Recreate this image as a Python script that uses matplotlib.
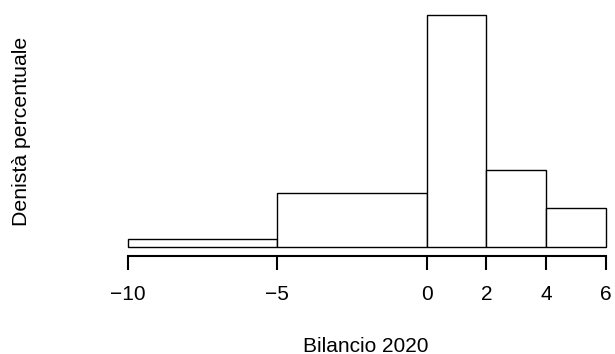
import matplotlib
matplotlib.use("Agg")
import matplotlib.pyplot as plt
import numpy as np

plt.rcParams['font.family'] = ['Liberation Sans', 'DejaVu Sans']

# Class breaks and share of observations (%) in each class
breaks = [-10, -5, 0, 2, 4, 6]
percent = [3.85, 26.92, 46.15, 15.38, 7.69]
tick_labels = ["\u221210", "\u22125", "0", "2", "4", "6"]

widths = np.diff(breaks)
density = np.array(percent) / widths

fig = plt.figure(figsize=(6.15, 3.54), dpi=100)
W, H = 615, 354
x0, x1 = 127.5, 606.0
ybot, ytop = 247.0, 15.0
ax = fig.add_axes([x0 / W, (H - ybot) / H, (x1 - x0) / W, (ybot - ytop) / H])

ax.bar(breaks[:-1], density, width=widths, align='edge',
       facecolor='white', edgecolor='black', linewidth=1.0, clip_on=False)

ax.set_xlim(breaks[0], breaks[-1])
ax.set_ylim(0, density.max())

for s in ['top', 'right', 'left']:
    ax.spines[s].set_visible(False)
ax.spines['bottom'].set_position(('outward', 6.5))
ax.spines['bottom'].set_linewidth(1.5)
ax.set_yticks([])
ax.set_xticks(breaks)
ax.set_xticklabels(tick_labels, fontsize=15)
ax.tick_params(axis='x', direction='out', length=10, width=1.5, pad=11)

fig.text(366 / W, 1 - 351.5 / H, "Bilancio 2020", ha='center', va='baseline', fontsize=15)
fig.text(22 / W, 1 - 131 / H, "Denist\u00e0 percentuale", ha='center', va='center',
         rotation=90, fontsize=15.3)

fig.savefig("out.png", dpi=100)
